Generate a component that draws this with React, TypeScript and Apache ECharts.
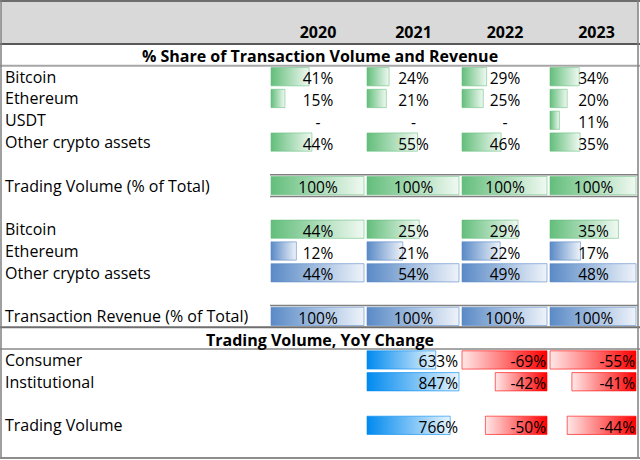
import React, { useEffect, useRef } from "react";
import * as echarts from "echarts";

// ---------- data ----------
const years = ["2020", "2021", "2022", "2023"];
const rowLabels = [
  "", "Bitcoin", "Ethereum", "USDT", "Other crypto assets", "",
  "Trading Volume (% of Total)", "",
  "Bitcoin", "Ethereum", "Other crypto assets", "",
  "Transaction Revenue (% of Total)", "",
  "Consumer", "Institutional", "", "Trading Volume", "",
];
const sectionTitles = ["% Share of Transaction Volume and Revenue", "Trading Volume, YoY Change"];

const btcVolume = [41, 24, 29, 34];
const ethVolume = [15, 21, 25, 20];
const usdtVolume: (number | null)[] = [null, null, null, 11];
const otherVolume = [44, 55, 46, 35];
const totalVolume = [100, 100, 100, 100];

const btcRevenue = [44, 25, 29, 35];
const ethRevenue = [12, 21, 22, 17];
const otherRevenue = [44, 54, 49, 48];
const totalRevenue = [100, 100, 100, 100];

const consumerYoY: (number | null)[] = [null, 633, -69, -55];
const institutionalYoY: (number | null)[] = [null, 847, -42, -41];
const tradingVolumeYoY: (number | null)[] = [null, 766, -50, -44];

// ---------- layout ----------
const W = 640, H = 460;
const TOP = 44;
const NROWS = rowLabels.length;
const BODY_H = 414;
const ROW_H = BODY_H / NROWS;
const COL_BOUNDS = [270, 366, 461, 549, 638];
const FONT = "'Open Sans', 'Noto Sans', sans-serif";

const PALETTE: Record<string, { base: string; light: string; stroke: string }> = {
  green: { base: "#63BE7B", light: "#F0F9F2", stroke: "rgba(99,190,123,0.55)" },
  blue: { base: "#5A8AC6", light: "#EEF3FA", stroke: "rgba(90,138,198,0.6)" },
  yoyBlue: { base: "#008AEF", light: "#E6F3FD", stroke: "rgba(0,138,239,0.6)" },
  red: { base: "#FF0000", light: "#FFE8E8", stroke: "rgba(255,0,0,0.6)" },
};

type Cell = { row: number; value: number | null; scale: number; pal: string; align: "center" | "right"; neg: boolean; empty: string };

function buildCells(c: number): Cell[] {
  const cells: Cell[] = [];
  const volMax = Math.max(...btcVolume, ...ethVolume, ...(usdtVolume.filter((v) => v != null) as number[]), ...otherVolume, ...totalVolume);
  const volRows: [number, (number | null)[]][] = [[1, btcVolume], [2, ethVolume], [3, usdtVolume], [4, otherVolume], [6, totalVolume]];
  volRows.forEach(([row, arr]) => cells.push({ row, value: arr[c], scale: volMax, pal: "green", align: "center", neg: false, empty: "-" }));
  cells.push({ row: 8, value: btcRevenue[c], scale: Math.max(...btcRevenue), pal: "green", align: "center", neg: false, empty: "-" });
  const revColMax = Math.max(ethRevenue[c], otherRevenue[c]);
  cells.push({ row: 9, value: ethRevenue[c], scale: revColMax, pal: "blue", align: "center", neg: false, empty: "-" });
  cells.push({ row: 10, value: otherRevenue[c], scale: revColMax, pal: "blue", align: "center", neg: false, empty: "-" });
  cells.push({ row: 12, value: totalRevenue[c], scale: Math.max(...totalRevenue), pal: "blue", align: "center", neg: false, empty: "-" });
  const yoy: [number, (number | null)[]][] = [[14, consumerYoY], [15, institutionalYoY], [17, tradingVolumeYoY]];
  const yoyMax = Math.max(...yoy.map(([, a]) => Math.abs(a[c] ?? 0)));
  yoy.forEach(([row, arr]) => {
    const v = arr[c];
    cells.push({ row, value: v, scale: yoyMax || 1, pal: v != null && v < 0 ? "red" : "yoyBlue", align: "right", neg: v != null && v < 0, empty: "" });
  });
  return cells;
}

export default function App() {
  const ref = useRef<HTMLDivElement>(null);
  useEffect(() => {
    document.body.style.margin = "0";
    const chart = echarts.init(ref.current!, null, { renderer: "svg" });
    const rowCats = rowLabels.map((_, i) => String(i));

    const grids = years.map((_, c) => ({
      left: COL_BOUNDS[c], top: TOP, width: COL_BOUNDS[c + 1] - COL_BOUNDS[c], height: BODY_H,
    }));
    const xAxes = years.map((y, c) => ({
      type: "value", gridIndex: c, min: 0, max: 1, position: "top",
      name: y, nameLocation: "middle", nameGap: 4,
      nameTextStyle: { fontFamily: FONT, fontWeight: "bold", fontSize: 16, color: "#000", padding: c === 3 ? [0, 0, 0, 6] : 0 },
      axisLine: { show: false }, axisTick: { show: false }, axisLabel: { show: false }, splitLine: { show: false },
    }));
    const yAxes = years.map((_, c) => ({
      type: "category", gridIndex: c, data: rowCats, inverse: true,
      axisLine: { show: false }, axisTick: { show: false }, splitLine: { show: false },
      axisLabel: c === 0 ? {
        show: true, interval: 0, align: "left", margin: COL_BOUNDS[0] - 5,
        fontFamily: FONT, fontSize: 16, color: "#000", padding: [3, 0, 0, 0],
        formatter: (v: string) => rowLabels[+v],
      } : { show: false },
    }));

    const series = years.map((_, c) => {
      const cells = buildCells(c);
      return {
        type: "custom", xAxisIndex: c, yAxisIndex: c,
        data: cells.map((cell) => [cell.value == null ? 0 : Math.abs(cell.value) / cell.scale, cell.row]),
        encode: { x: 0, y: 1 },
        renderItem: (params: any, api: any) => {
          const cell = cells[params.dataIndex];
          const frac = api.value(0);
          const p0 = api.coord([0, api.value(1)]);
          const p1 = api.coord([1, api.value(1)]);
          const cy = p0[1];
          const xL = p0[0] + 1, xR = p1[0] - 2;
          const span = xR - xL;
          const bh = ROW_H - 3.5;
          const pal = PALETTE[cell.pal];
          const children: any[] = [];
          if (cell.value != null && frac > 0) {
            const bw = frac * span;
            const bx = cell.neg ? xR - bw : xL;
            const stops = cell.neg
              ? [{ offset: 0, color: pal.light }, { offset: 1, color: pal.base }]
              : [{ offset: 0, color: pal.base }, { offset: 1, color: pal.light }];
            children.push({
              type: "rect",
              shape: { x: bx, y: cy - bh / 2, width: bw, height: bh },
              style: { fill: new echarts.graphic.LinearGradient(0, 0, 1, 0, stops), stroke: pal.stroke, lineWidth: 1 },
            });
          }
          const txt = cell.value == null ? cell.empty : `${cell.value}%`;
          children.push({
            type: "text",
            style: {
              text: txt,
              x: cell.align === "center" ? (p0[0] + p1[0]) / 2 : p1[0] - 3,
              y: cy + 1.5,
              align: cell.align,
              verticalAlign: "middle",
              fontFamily: FONT, fontSize: 15.5, fill: "#000",
            },
          });
          return { type: "group", children };
        },
      };
    });

    const rowY = (r: number) => TOP + r * ROW_H;
    const line = (x1: number, y1: number, x2: number, y2: number, color: string, w: number) => ({
      type: "line", silent: true, z: 10,
      shape: { x1, y1, x2, y2 },
      style: { stroke: color, lineWidth: w },
    });
    const graphic: any[] = [
      { type: "rect", z: -1, shape: { x: 1, y: 1, width: W - 3, height: TOP - 1 }, style: { fill: "#D9D9D9" } },
      line(0, 1, W, 1, "#6E6E6E", 2),
      line(0, TOP, W, TOP, "#595959", 2),
      line(0, rowY(1), W, rowY(1), "#A6A6A6", 2),
      line(COL_BOUNDS[0], rowY(6), COL_BOUNDS[4], rowY(6), "#808080", 1.5),
      line(COL_BOUNDS[0], rowY(7), COL_BOUNDS[4], rowY(7), "#808080", 1.5),
      line(COL_BOUNDS[0], rowY(12), COL_BOUNDS[4], rowY(12), "#808080", 1.5),
      line(0, rowY(13), W, rowY(13), "#6E6E6E", 2),
      line(0, rowY(14), W, rowY(14), "#A6A6A6", 2),
      line(1, 0, 1, rowY(NROWS), "#808080", 1.5),
      line(COL_BOUNDS[4], 0, COL_BOUNDS[4], rowY(NROWS), "#808080", 1.5),
      line(0, rowY(NROWS), W, rowY(NROWS), "#8C8C8C", 2),
      {
        type: "text", z: 11, style: {
          text: sectionTitles[0], x: W / 2, y: rowY(0) + ROW_H / 2 + 1.5, align: "center", verticalAlign: "middle",
          fontFamily: FONT, fontWeight: "bold", fontSize: 16, fill: "#000",
        },
      },
      {
        type: "text", z: 11, style: {
          text: sectionTitles[1], x: W / 2, y: rowY(13) + ROW_H / 2 + 1.5, align: "center", verticalAlign: "middle",
          fontFamily: FONT, fontWeight: "bold", fontSize: 16, fill: "#000",
        },
      },
    ];

    chart.setOption({
      animation: false,
      backgroundColor: "#fff",
      grid: grids,
      xAxis: xAxes,
      yAxis: yAxes,
      series,
      graphic,
    } as any);
    return () => chart.dispose();
  }, []);
  return <div ref={ref} style={{ width: W, height: H }} />;
}
